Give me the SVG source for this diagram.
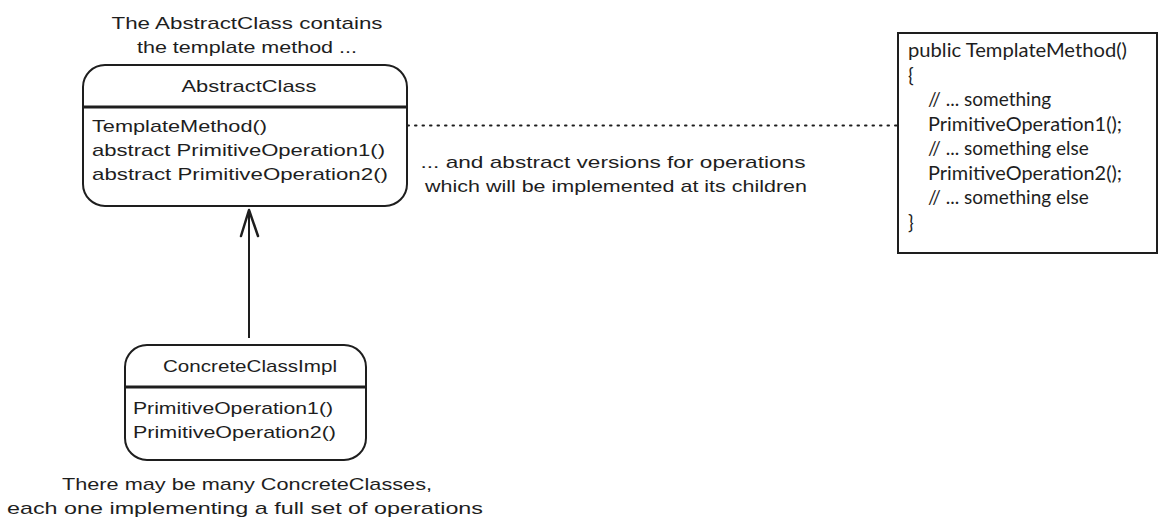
<svg xmlns="http://www.w3.org/2000/svg" width="1173" height="532" viewBox="0 0 1173 532">
<style>
.hand{font-family:"Liberation Sans","DejaVu Sans",sans-serif;font-size:17px;fill:#1e1e1e}
.mid{text-anchor:middle}
.code{font-family:Lato,"Noto Sans",sans-serif;font-size:19px;fill:#1e1e1e}
.box{fill:#fff;stroke:#1e1e1e;stroke-width:2}
.div{stroke:#1e1e1e;stroke-width:3}
</style>
<rect width="1173" height="532" fill="#fff"/>
<g id="connectors">
<line x1="280" y1="125.5" x2="897" y2="125.5" stroke="#1e1e1e" stroke-width="2" stroke-dasharray="1.5 6" stroke-linecap="round"/>
<line x1="249" y1="210" x2="249" y2="338" stroke="#1e1e1e" stroke-width="2"/>
<polyline points="241,236 249,210 258,236" fill="none" stroke="#1e1e1e" stroke-width="2.5" stroke-linecap="round" stroke-linejoin="round"/>
</g>
<g id="note-top">
<text class="hand mid" x="247" y="29" textLength="271" lengthAdjust="spacingAndGlyphs">The AbstractClass contains</text>
<text class="hand mid" x="247" y="53" textLength="220" lengthAdjust="spacingAndGlyphs">the template method ...</text>
</g>
<g id="abstract-class">
<rect class="box" x="83" y="65" width="324" height="141" rx="22"/>
<line class="div" x1="83" y1="107" x2="407" y2="107"/>
<text class="hand mid" x="249" y="92" textLength="135" lengthAdjust="spacingAndGlyphs">AbstractClass</text>
<text class="hand" x="92" y="132" textLength="175" lengthAdjust="spacingAndGlyphs">TemplateMethod()</text>
<text class="hand" x="92" y="156" textLength="293" lengthAdjust="spacingAndGlyphs">abstract PrimitiveOperation1()</text>
<text class="hand" x="92" y="180" textLength="296" lengthAdjust="spacingAndGlyphs">abstract PrimitiveOperation2()</text>
</g>
<g id="note-abstract">
<text class="hand mid" x="613" y="168" textLength="385" lengthAdjust="spacingAndGlyphs">... and abstract versions for operations</text>
<text class="hand mid" x="616" y="192" textLength="382" lengthAdjust="spacingAndGlyphs">which will be implemented at its children</text>
</g>
<g id="template-method-code">
<rect x="898" y="33" width="259" height="220" fill="#fff" stroke="#1e1e1e" stroke-width="2"/>
<text class="code" x="908" y="57" textLength="219" lengthAdjust="spacingAndGlyphs">public TemplateMethod()</text>
<text class="code" x="908" y="82">{</text>
<text class="code" x="928" y="106">// ... something</text>
<text class="code" x="928" y="131" textLength="194" lengthAdjust="spacingAndGlyphs">PrimitiveOperation1();</text>
<text class="code" x="928" y="155">// ... something else</text>
<text class="code" x="928" y="180" textLength="194" lengthAdjust="spacingAndGlyphs">PrimitiveOperation2();</text>
<text class="code" x="928" y="204">// ... something else</text>
<text class="code" x="908" y="229">}</text>
</g>
<g id="concrete-class">
<rect class="box" x="125" y="345" width="241" height="115" rx="22"/>
<line class="div" x1="125" y1="387" x2="366" y2="387"/>
<text class="hand mid" x="250" y="372" textLength="174" lengthAdjust="spacingAndGlyphs">ConcreteClassImpl</text>
<text class="hand" x="133" y="414" textLength="200" lengthAdjust="spacingAndGlyphs">PrimitiveOperation1()</text>
<text class="hand" x="133" y="438" textLength="203" lengthAdjust="spacingAndGlyphs">PrimitiveOperation2()</text>
</g>
<g id="note-bottom">
<text class="hand mid" x="247" y="490" textLength="370" lengthAdjust="spacingAndGlyphs">There may be many ConcreteClasses,</text>
<text class="hand mid" x="245" y="514" textLength="476" lengthAdjust="spacingAndGlyphs">each one implementing a full set of operations</text>
</g>
</svg>
